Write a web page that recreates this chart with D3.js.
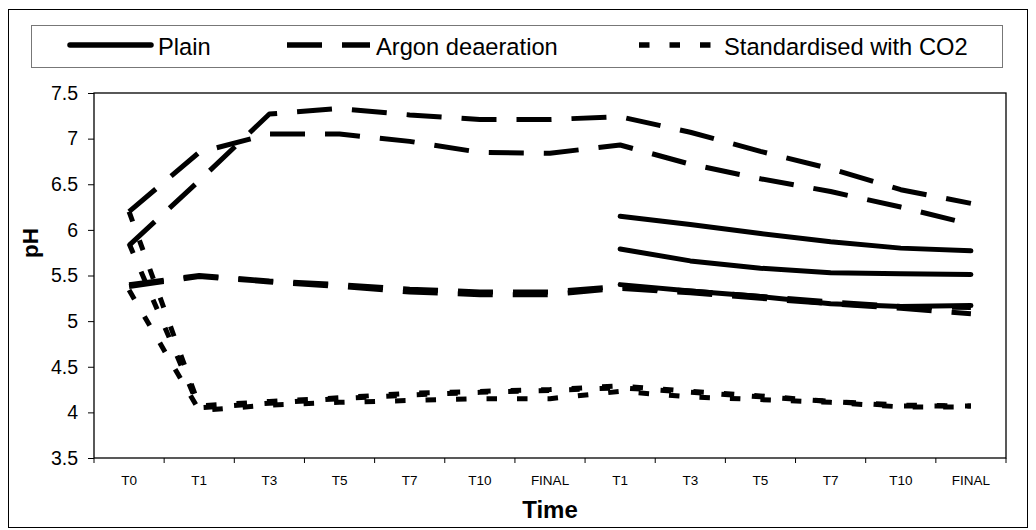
<!DOCTYPE html>
<html>
<head>
<meta charset="utf-8">
<script src="https://cdn.jsdelivr.net/npm/d3@7"></script>
<style>
    body { margin: 0; background: #fff; }
    svg { display: block; font-family: "Liberation Sans", Arial, sans-serif; }
    .axis path, .axis line { stroke: #000; }
    .domain { display: none; }
</style>
</head>
<body>
<div id="svgholder"></div>
<script>
// categories on the x axis (two runs, second one restarts at T1)
const categories = ["T0", "T1", "T3", "T5", "T7", "T10", "FINAL", "T1", "T3", "T5", "T7", "T10", "FINAL"];
const yTicks = [3.5, 4, 4.5, 5, 5.5, 6, 6.5, 7, 7.5];
const legendNames = ["Plain", "Argon deaeration", "Standardised with CO2"];

// Plain - only measured in the second run
const plain1 = [null, null, null, null, null, null, null, 6.15, 6.06, 5.96, 5.87, 5.80, 5.77];
const plain2 = [null, null, null, null, null, null, null, 5.79, 5.66, 5.58, 5.53, 5.52, 5.51];
const plain3 = [null, null, null, null, null, null, null, 5.40, 5.33, 5.27, 5.19, 5.16, 5.17];

// Argon deaeration
const argon1 = [5.83, 6.54, 7.27, 7.33, 7.26, 7.21, 7.21, 7.24, 7.07, 6.86, 6.67, 6.44, 6.29];
const argon2 = [6.20, 6.85, 7.05, 7.05, 6.97, 6.85, 6.84, 6.93, 6.72, 6.56, 6.42, 6.25, 6.06];
const argon3 = [5.40, 5.50, 5.44, 5.40, 5.35, 5.32, 5.32, 5.38, 5.33, 5.27, 5.21, 5.16, 5.15];
const argon4 = [5.38, 5.49, 5.43, 5.38, 5.32, 5.29, 5.29, 5.36, 5.31, 5.25, 5.19, 5.14, 5.08];

// Standardised with CO2
const co2_1 = [6.20, 4.07, 4.12, 4.16, 4.21, 4.23, 4.25, 4.29, 4.23, 4.18, 4.12, 4.08, 4.07];
const co2_2 = [5.85, 4.05, 4.10, 4.15, 4.19, 4.22, 4.24, 4.27, 4.22, 4.17, 4.12, 4.07, 4.07];
const co2_3 = [5.34, 4.02, 4.08, 4.11, 4.13, 4.15, 4.15, 4.23, 4.17, 4.14, 4.11, 4.06, 4.06];

// line styles per treatment
const styles = {
    plain: { width: 5, dash: null, cap: "round" },
    argon: { width: 5, dash: "35,20", cap: "butt" },
    co2:   { width: 5, dash: "10.5,20", cap: "butt" }
};

const series = [
    { kind: "argon", values: argon1 },
    { kind: "argon", values: argon2 },
    { kind: "argon", values: argon3 },
    { kind: "argon", values: argon4 },
    { kind: "co2", values: co2_1 },
    { kind: "co2", values: co2_2 },
    { kind: "co2", values: co2_3 },
    { kind: "plain", values: plain1 },
    { kind: "plain", values: plain2 },
    { kind: "plain", values: plain3 }
];

let width = 1036;
let height = 530;
let plot = { left: 94, top: 93, right: 1006, bottom: 458 };

let svg = d3.select("#svgholder").append("svg")
    .attr("width", width)
    .attr("height", height);

// outer chart frame
svg.append("rect")
    .attr("x", 8.5).attr("y", 9.5)
    .attr("width", 1019).attr("height", 518)
    .attr("fill", "#fff").attr("stroke", "#000").attr("stroke-width", 1);

//Mapping functions for each of x,y
let xScale = d3.scaleBand()
    .domain(d3.range(categories.length))
    .range([plot.left, plot.right])
    .padding(0);
let yScale = d3.scaleLinear()
    .domain([3.5, 7.5])
    .range([plot.bottom, plot.top]);

let xMid = i => xScale(i) + xScale.bandwidth() / 2;

// plot area border
svg.append("rect")
    .attr("x", plot.left).attr("y", plot.top)
    .attr("width", plot.right - plot.left).attr("height", plot.bottom - plot.top)
    .attr("fill", "none").attr("stroke", "#000").attr("stroke-width", 1.3);

// Y axis
let yAxis = svg.append("g").attr("class", "axis")
    .attr("transform", `translate(${plot.left},0)`)
    .call(d3.axisLeft(yScale).tickValues(yTicks).tickSize(6).tickPadding(10).tickFormat(d => String(d)));
yAxis.selectAll("text").attr("font-size", "19.5px").attr("fill", "#000");

// X axis labels (centred in each category)
let xAxis = svg.append("g").attr("class", "axis")
    .attr("transform", `translate(0,${plot.bottom})`)
    .call(d3.axisBottom(xScale).tickSize(0).tickPadding(17).tickFormat(i => categories[i]));
xAxis.selectAll("text").attr("font-size", "13.5px").attr("fill", "#000");

// X tick marks sit on the category boundaries
xAxis.selectAll(".boundary")
    .data(d3.range(categories.length + 1))
    .enter().append("line")
    .attr("class", "boundary")
    .attr("x1", i => plot.left + i * xScale.step())
    .attr("x2", i => plot.left + i * xScale.step())
    .attr("y1", 0).attr("y2", 5)
    .attr("stroke", "#000");

// axis titles
svg.append("text")
    .attr("x", (plot.left + plot.right) / 2).attr("y", 518)
    .attr("text-anchor", "middle")
    .attr("font-size", "24px").attr("font-weight", "bold")
    .text("Time");

svg.append("text")
    .attr("transform", "translate(38,243) rotate(-90)")
    .attr("text-anchor", "middle")
    .attr("font-size", "22.5px").attr("font-weight", "bold")
    .text("pH");

//Line function, maps category,value to x,y cords
let line = d3.line()
    .defined(d => d != null)
    .x((d, i) => xMid(i))
    .y(d => yScale(d));

svg.append("g").selectAll("path")
    .data(series)
    .enter().append("path")
    .attr("d", s => line(s.values))
    .attr("fill", "none")
    .attr("stroke", "#000")
    .attr("stroke-width", s => styles[s.kind].width)
    .attr("stroke-dasharray", s => styles[s.kind].dash)
    .attr("stroke-linecap", s => styles[s.kind].cap)
    .attr("stroke-linejoin", "round");

// Legend
let legend = svg.append("g");
legend.append("rect")
    .attr("x", 31.5).attr("y", 25.5)
    .attr("width", 971).attr("height", 42)
    .attr("fill", "#fff").attr("stroke", "#777").attr("stroke-width", 1);

let legendItems = [
    { kind: "plain", x1: 70, x2: 151, tx: 158 },
    { kind: "argon", x1: 287, x2: 370, tx: 376 },
    { kind: "co2", x1: 639, x2: 720, tx: 724 }
];

legendItems.forEach((item, i) => {
    let st = styles[item.kind];
    legend.append("line")
        .attr("x1", item.x1).attr("x2", item.x2)
        .attr("y1", 45).attr("y2", 45)
        .attr("stroke", "#000")
        .attr("stroke-width", 5.5)
        .attr("stroke-dasharray", st.dash)
        .attr("stroke-linecap", st.cap);
    legend.append("text")
        .attr("x", item.tx).attr("y", 55)
        .attr("font-size", "23.7px")
        .text(legendNames[i]);
});
</script>
</body>
</html>
